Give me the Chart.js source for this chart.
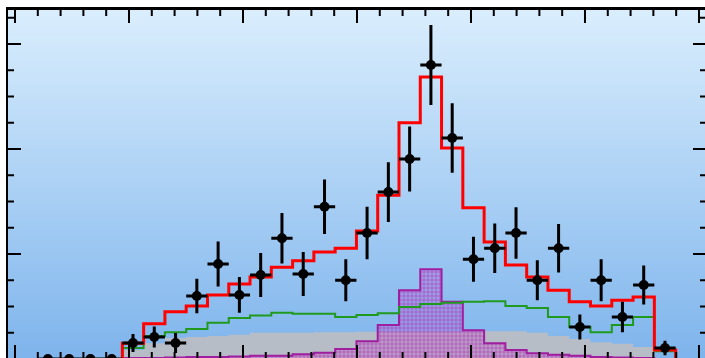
<!DOCTYPE html>
<html>
<head>
<meta charset="utf-8">
<script src="https://cdn.jsdelivr.net/npm/chart.js@4.4.1/dist/chart.umd.min.js"></script>
<style>
  html, body { margin: 0; padding: 0; background: #fff; overflow: hidden; }
  #wrap { width: 705px; height: 358px; overflow: hidden; }
  canvas { display: block; }
</style>
</head>
<body>
<div id="wrap"><canvas id="c" width="720" height="372"></canvas></div>
<script>
// x axis is in bin units: bin k covers [k, k+1]
// data points, bins 0..29
const dataValues = [0, 0, 0, 0, 3.05, 4.2, 3.05, 12.0, 18.1, 12.2, 16.0, 23.0, 16.2, 29.0, 15.0,
  24.0, 31.8, 38.1, 56.0, 42.1, 19.0, 21.1, 24.0, 15.0, 21.1, 6.1, 15.0, 8.0, 14.1, 2.1];
const dataErrors = [0, 0, 0, 0, 1.7, 2.0, 1.9, 3.3, 4.3, 3.4, 4.2, 4.8, 4.2, 5.2, 4.0,
  5.0, 5.7, 6.2, 7.6, 6.6, 4.3, 4.7, 4.9, 3.8, 4.6, 2.4, 4.0, 2.9, 3.7, 1.4];

// model histograms, bins 4..29
const firstModelBin = 4;
const totalModel = [3.0, 6.7, 9.0, 10.1, 12.2, 14.3, 15.6, 17.5, 18.7, 20.4, 21.1, 24.4, 31.2,
  45.0, 53.7, 40.2, 28.8, 22.3, 17.9, 15.6, 13.1, 10.9, 10.1, 11.2, 11.8, 1.7];
const greenModel = [2.1, 4.4, 5.1, 5.7, 6.9, 7.8, 8.3, 8.8, 8.6, 8.6, 8.0, 8.4, 8.7,
  9.9, 10.5, 10.7, 10.9, 11.0, 10.1, 9.7, 8.0, 6.1, 5.1, 6.5, 8.0, 1.5];
const grayModel = [1.7, 3.0, 4.0, 4.2, 4.4, 4.6, 5.0, 5.0, 5.0, 5.1, 5.1, 5.2, 5.2,
  5.2, 5.2, 5.2, 5.3, 5.3, 5.3, 5.0, 4.4, 3.8, 3.2, 2.9, 2.3, 0];
const peakModel = [0.2, 0.2, 0.3, 0.4, 0.4, 0.5, 0.6, 0.6, 0.9, 1.2, 1.9, 3.4, 6.5,
  13.1, 17.1, 10.9, 5.5, 3.0, 1.7, 1.1, 0.8, 0.6, 0.4, 0.3, 0.2, 0];

// tick positions (no labels shown)
const xMajorTicks = [-1.045, 4.312, 9.669, 15.026, 20.383, 25.740, 31.097];
const yMajorTicks = [0, 20, 40, 60];
const xMinorStep = 1.0714;
const yMinorStep = 5;

// step outline points: value of bin sits at its right edge ('after' stepping)
function histPoints(first, values) {
  const pts = [{ x: first, y: 0 }];
  values.forEach((v, i) => pts.push({ x: first + i + 1, y: v }));
  pts.push({ x: first + values.length, y: 0 });
  return pts;
}

// hatch pattern for the peak component: mesh with round holes
function makeHatch() {
  const t = document.createElement("canvas");
  t.width = 4;
  t.height = 4;
  const g = t.getContext("2d");
  g.fillStyle = "rgba(185, 45, 185, 0.62)";
  g.fillRect(0, 0, 4, 4);
  g.globalCompositeOperation = "destination-out";
  g.beginPath();
  g.arc(2, 2, 1.7, 0, Math.PI * 2);
  g.fill();
  return g.createPattern(t, "repeat");
}

const background = {
  id: "background",
  beforeDatasetsDraw(chart) {
    const { ctx, chartArea: a } = chart;
    const grad = ctx.createLinearGradient(0, a.top, 0, a.bottom);
    grad.addColorStop(0, "rgb(218, 238, 253)");
    grad.addColorStop(1, "rgb(126, 180, 236)");
    ctx.save();
    ctx.fillStyle = grad;
    ctx.fillRect(a.left, a.top, a.right - a.left, a.bottom - a.top);
    ctx.restore();
  },
};

const errorBars = {
  id: "errorBars",
  afterDatasetsDraw(chart) {
    const { ctx } = chart;
    const x = chart.scales.x;
    const y = chart.scales.y;
    ctx.save();
    ctx.strokeStyle = "#000";
    ctx.lineWidth = 3;
    ctx.beginPath();
    dataValues.forEach((v, k) => {
      const px = x.getPixelForValue(k + 0.5);
      const py = y.getPixelForValue(v);
      ctx.moveTo(x.getPixelForValue(k), py);
      ctx.lineTo(x.getPixelForValue(k + 1), py);
      if (dataErrors[k] > 0) {
        ctx.moveTo(px, y.getPixelForValue(v + dataErrors[k]));
        ctx.lineTo(px, y.getPixelForValue(v - dataErrors[k]));
      }
    });
    ctx.stroke();
    ctx.restore();
  },
};

const frame = {
  id: "frame",
  afterDraw(chart) {
    const { ctx, chartArea: a } = chart;
    const x = chart.scales.x;
    const y = chart.scales.y;
    ctx.save();
    ctx.strokeStyle = "#000";
    ctx.lineWidth = 2;
    ctx.beginPath();
    const tickX = (v, len) => {
      const px = x.getPixelForValue(v);
      ctx.moveTo(px, a.top);
      ctx.lineTo(px, a.top + len);
      ctx.moveTo(px, a.bottom);
      ctx.lineTo(px, a.bottom - len);
    };
    const tickY = (v, len) => {
      const py = y.getPixelForValue(v);
      ctx.moveTo(a.left, py);
      ctx.lineTo(a.left + len, py);
      ctx.moveTo(a.right, py);
      ctx.lineTo(a.right - len, py);
    };
    xMajorTicks.forEach((v, i) => {
      tickX(v, 14);
      if (i < xMajorTicks.length - 1) {
        for (let j = 1; j < 5; j++) tickX(v + j * xMinorStep, 7);
      }
    });
    yMajorTicks.forEach((v) => {
      tickY(v, 14);
      for (let j = 1; j < 4; j++) tickY(v + j * yMinorStep, 7);
    });
    ctx.stroke();
    // frame
    ctx.lineWidth = 2;
    ctx.strokeRect(a.left, a.top, a.right - a.left, a.bottom - a.top);
    ctx.lineWidth = 3;
    ctx.beginPath();
    ctx.moveTo(a.left - 1, a.top - 0.5);
    ctx.lineTo(a.right + 1, a.top - 0.5);
    ctx.stroke();
    ctx.restore();
  },
};

const ctx = document.getElementById("c").getContext("2d");

new Chart(ctx, {
  data: {
    datasets: [
      {
        type: "scatter",
        data: dataValues.map((v, k) => ({ x: k + 0.5, y: v })),
        backgroundColor: "#000",
        borderWidth: 0,
        pointRadius: 5,
        showLine: false,
      },
      {
        type: "line",
        data: histPoints(firstModelBin, totalModel),
        borderColor: "#ff0000",
        borderWidth: 3,
        stepped: "after",
        pointRadius: 0,
        fill: false,
      },
      {
        type: "line",
        data: histPoints(firstModelBin, greenModel),
        borderColor: "#1f9a1f",
        borderWidth: 2,
        stepped: "after",
        pointRadius: 0,
        fill: false,
      },
      {
        type: "line",
        data: histPoints(firstModelBin, peakModel),
        borderColor: "#a01ea0",
        borderWidth: 2,
        backgroundColor: makeHatch(),
        stepped: "after",
        pointRadius: 0,
        fill: "origin",
      },
      {
        type: "line",
        data: histPoints(firstModelBin, grayModel),
        borderColor: "rgba(0,0,0,0)",
        borderWidth: 0,
        backgroundColor: "rgb(182, 189, 199)",
        stepped: "after",
        pointRadius: 0,
        fill: "origin",
      },
    ],
  },
  options: {
    responsive: false,
    animation: false,
    devicePixelRatio: 1,
    layout: {
      padding: { left: 7, top: 9, right: 13, bottom: 13 },
    },
    scales: {
      x: { type: "linear", display: false, min: -1.421, max: 31.474 },
      y: { type: "linear", display: false, min: 0, max: 66.667 },
    },
    plugins: {
      legend: { display: false },
      tooltip: { enabled: false },
    },
  },
  plugins: [background, errorBars, frame],
});
</script>
</body>
</html>
